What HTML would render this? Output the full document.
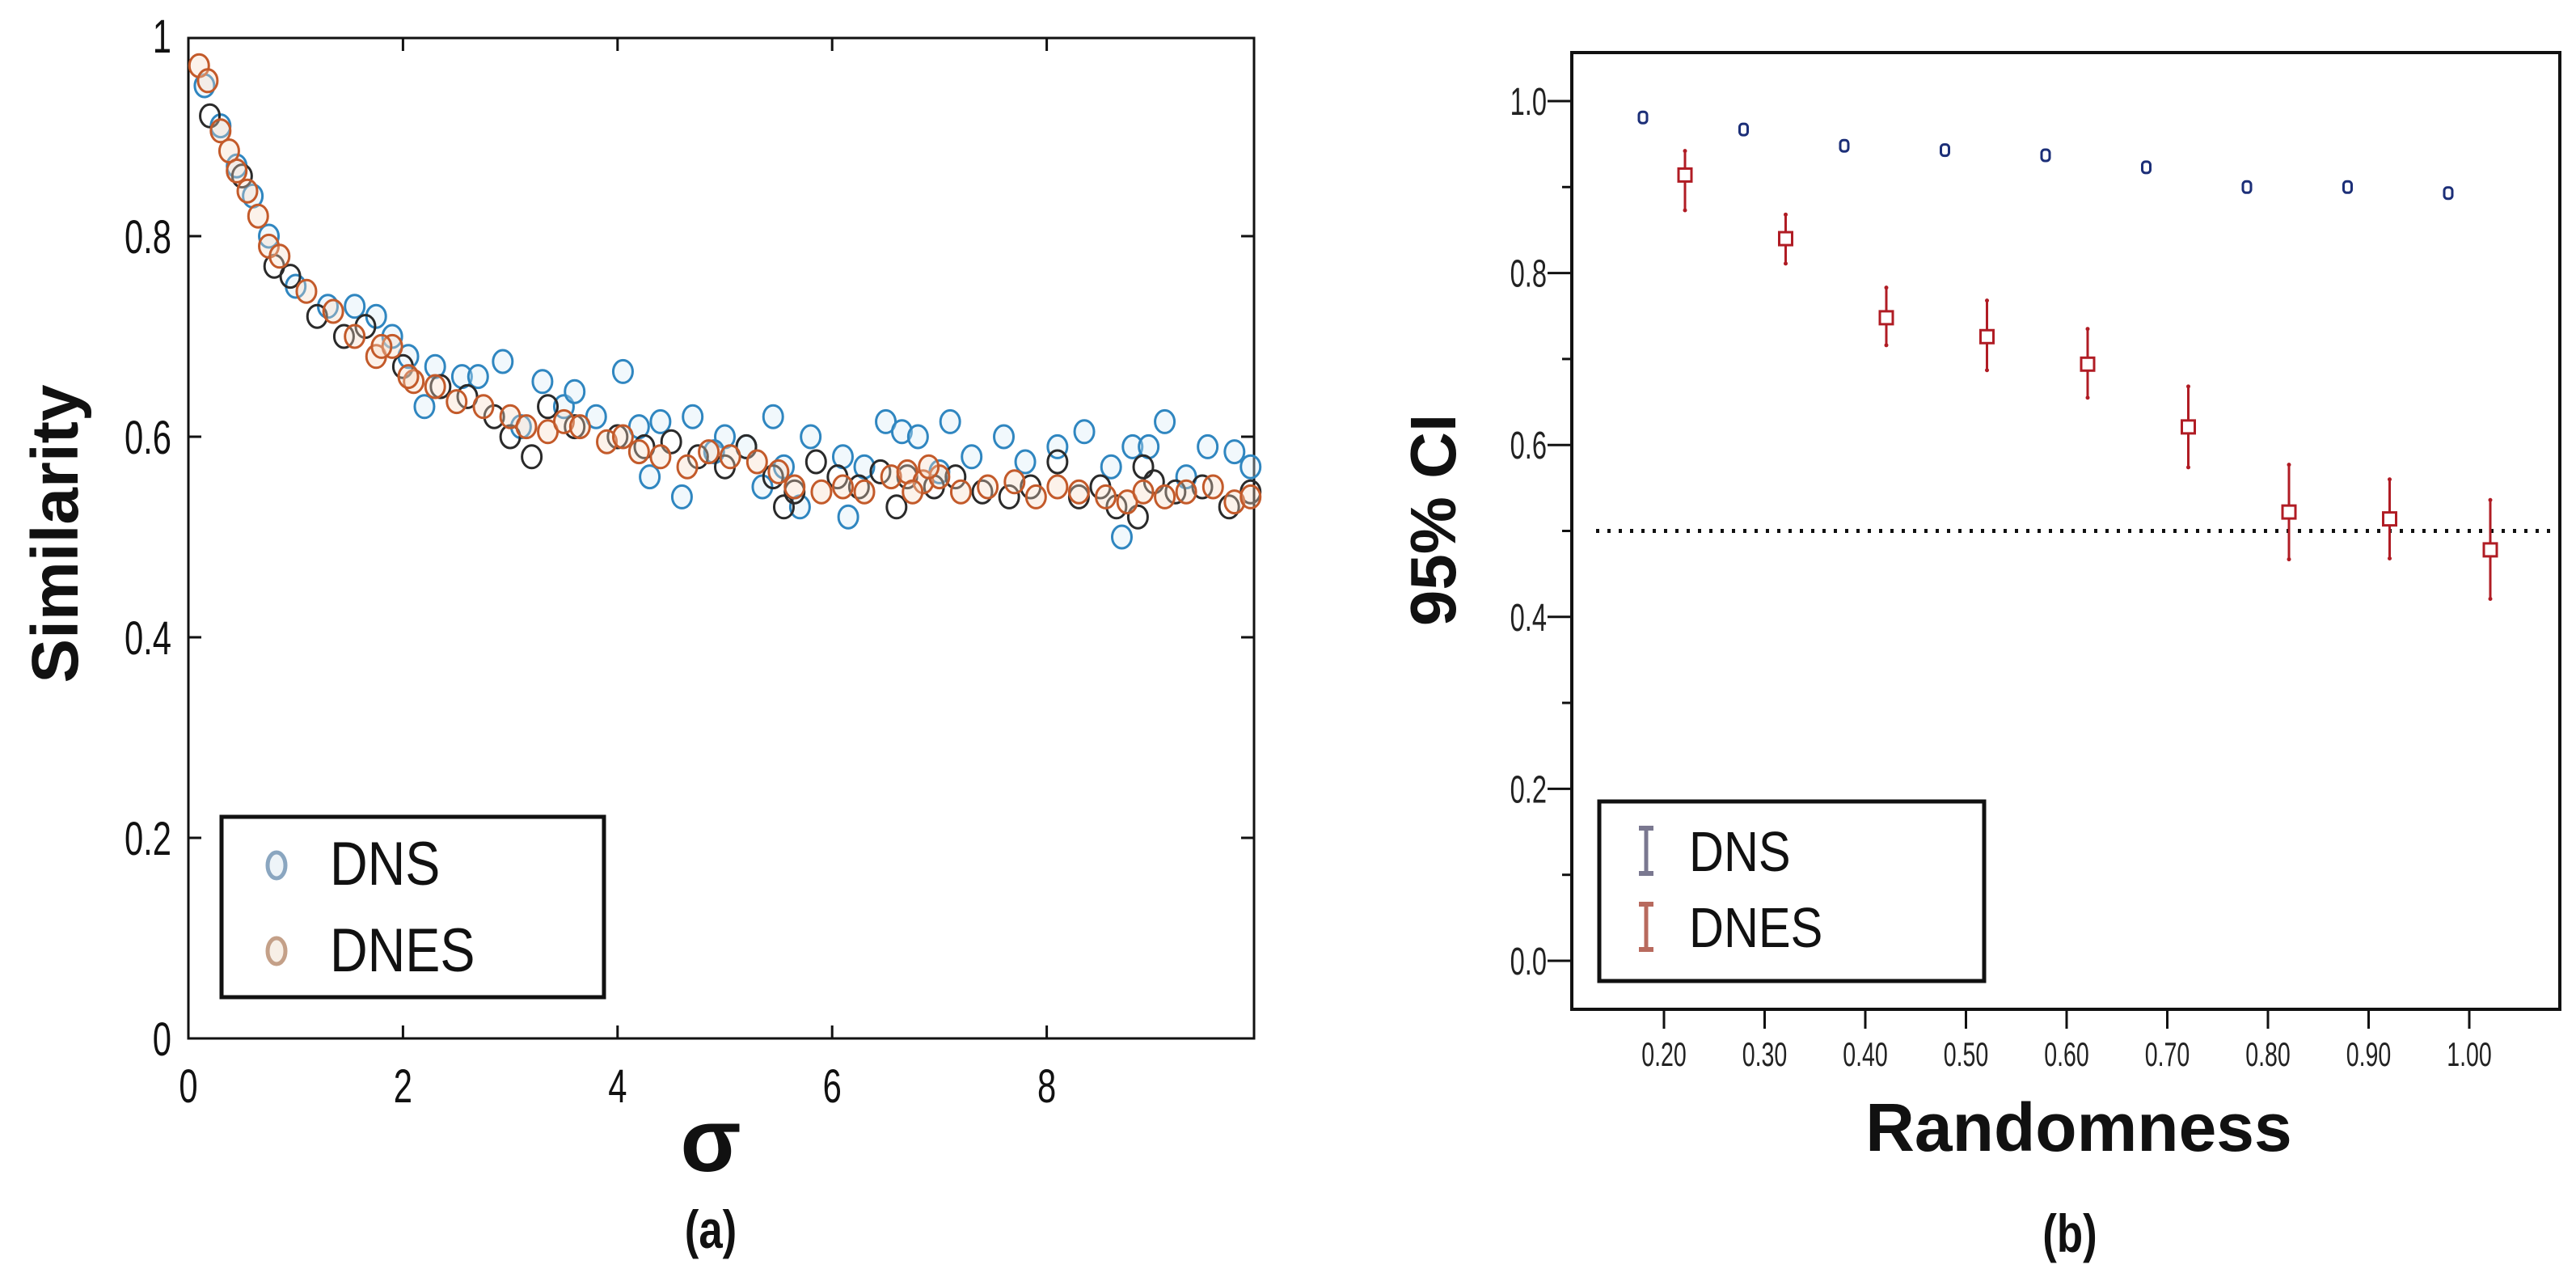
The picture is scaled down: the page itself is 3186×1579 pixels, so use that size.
<!DOCTYPE html>
<html><head><meta charset="utf-8"><style>
html,body{margin:0;padding:0;background:#fff;}
svg{display:block;font-family:"Liberation Sans",Arial,sans-serif;}
</style></head><body>
<svg id="fig" width="3186" height="1579" viewBox="0 0 3186 1579" xmlns="http://www.w3.org/2000/svg">
<rect width="3186" height="1579" fill="#fff"/>
<g id="left"></g>
<g id="right"></g>
</svg>
<script>
// ---------- Panel (a) data ----------
const dnsX=[0.15,0.3,0.45,0.6,0.75,1.0,1.3,1.55,1.75,2.05,2.2,2.3,2.55,2.93,3.1,3.3,3.5,3.6,4.05,4.2,4.3,4.4,4.6,4.7,5.0,5.2,5.45,5.55,5.7,5.8,6.1,6.15,6.5,6.65,6.8,7.1,7.3,7.6,7.8,8.1,8.35,8.6,8.7,8.8,8.95,9.1,9.5,9.75,9.9,5.35,6.3,7.0,9.3,4.9,2.7,1.9,3.8];
const dnsY=[0.95,0.91,0.87,0.84,0.80,0.75,0.73,0.73,0.72,0.68,0.63,0.67,0.66,0.675,0.61,0.655,0.63,0.645,0.665,0.61,0.56,0.615,0.54,0.62,0.60,0.59,0.62,0.57,0.53,0.60,0.58,0.52,0.615,0.605,0.60,0.615,0.58,0.60,0.575,0.59,0.605,0.57,0.50,0.59,0.59,0.615,0.59,0.585,0.57,0.55,0.57,0.565,0.56,0.585,0.66,0.70,0.62];
const darkX=[0.2,0.5,0.8,0.95,1.2,1.45,1.65,2.0,2.35,2.6,2.85,3.0,3.2,3.35,3.6,4.0,4.25,4.5,4.75,5.0,5.2,5.45,5.65,5.85,6.05,6.25,6.45,6.7,6.95,7.15,7.4,7.65,7.85,8.1,8.3,8.5,8.65,8.85,9.0,9.2,9.45,9.7,9.9,8.9,6.6,5.55];
const darkY=[0.92,0.86,0.77,0.76,0.72,0.70,0.71,0.67,0.65,0.64,0.62,0.60,0.58,0.63,0.61,0.60,0.59,0.595,0.58,0.57,0.59,0.56,0.545,0.575,0.56,0.55,0.565,0.56,0.55,0.56,0.545,0.54,0.55,0.575,0.54,0.55,0.53,0.52,0.555,0.545,0.55,0.53,0.545,0.57,0.53,0.53];
const dnesX=[0.1,0.18,0.3,0.38,0.45,0.55,0.65,0.75,0.85,1.1,1.35,1.55,1.75,1.9,2.1,2.3,2.5,2.75,3.0,3.15,3.35,3.5,3.65,3.9,4.05,4.2,4.4,4.65,4.85,5.05,5.3,5.5,5.65,5.9,6.1,6.3,6.55,6.7,6.85,7.0,7.2,7.45,7.7,7.9,8.1,8.3,8.55,8.75,8.9,9.1,9.3,9.55,9.75,9.9,6.75,6.9,2.05,1.8];
const dnesY=[0.97,0.955,0.905,0.885,0.865,0.845,0.82,0.79,0.78,0.745,0.725,0.70,0.68,0.69,0.655,0.65,0.635,0.63,0.62,0.61,0.605,0.615,0.61,0.595,0.60,0.585,0.58,0.57,0.585,0.58,0.575,0.565,0.55,0.545,0.55,0.545,0.56,0.565,0.555,0.56,0.545,0.55,0.555,0.54,0.55,0.545,0.54,0.535,0.545,0.54,0.545,0.55,0.535,0.54,0.545,0.57,0.66,0.69];
const leftXTicks=[0,2,4,6,8];
const leftYTicks=[0,0.2,0.4,0.6,0.8,1];
const leftYLabels=["0","0.2","0.4","0.6","0.8","1"];

// ---------- Panel (b) data ----------
const categories=["0.20","0.30","0.40","0.50","0.60","0.70","0.80","0.90","1.00"];
const dnsMean=[0.981,0.967,0.948,0.943,0.937,0.923,0.900,0.900,0.893];
const dnsLow=[0.976,0.962,0.943,0.938,0.932,0.918,0.894,0.895,0.886];
const dnsHigh=[0.986,0.972,0.953,0.948,0.942,0.928,0.906,0.905,0.900];
const dnesMean=[0.914,0.840,0.748,0.726,0.694,0.621,0.522,0.514,0.478];
const dnesLow=[0.873,0.811,0.716,0.687,0.655,0.574,0.467,0.468,0.421];
const dnesHigh=[0.942,0.868,0.783,0.768,0.735,0.668,0.577,0.560,0.536];
const rightYTicks=[0,0.2,0.4,0.6,0.8,1.0];
const rightYLabels=["0.0","0.2","0.4","0.6","0.8","1.0"];
const rightMinorTicks=[0.1,0.3,0.5,0.7,0.9];
const refLine=[0.5];

const NS="http://www.w3.org/2000/svg";
function mk(parent,tag,attrs,text){const e=document.createElementNS(NS,tag);for(const k in attrs)e.setAttribute(k,attrs[k]);if(text!==undefined)e.textContent=text;parent.appendChild(e);return e;}

// ===== Panel (a) =====
const L=document.getElementById('left');
const lx0=233,lx1=1551,ly0=1284,ly1=44;
const lxs=v=>lx0+v*(1327/10);
const lys=v=>ly0-v*(ly0-ly1);
let fr=mk(L,'rect',{x:lx0,y:47,width:lx1-lx0,height:ly0-47,fill:'none',stroke:'#111','stroke-width':3});


leftXTicks.forEach((t,i)=>{
  const x=lxs(t);
  if(i>0){
    let a=mk(L,'line',{x1:x,x2:x,y1:ly0,y2:ly0-16,stroke:'#111','stroke-width':3});
    
    
    let b=mk(L,'line',{x1:x,x2:x,y1:47,y2:63,stroke:'#111','stroke-width':3});
    
    
  }
  let tl=mk(L,'text',{x:0,y:0,transform:`translate(${x},1363) scale(0.72,1)`,'text-anchor':'middle','font-size':58,fill:'#111'},String(t));
  
  
});
leftYTicks.forEach((t,i)=>{
  const y=lys(t);
  if(i>0&&i<leftYTicks.length-1){
    let a=mk(L,'line',{x1:lx0,x2:lx0+16,y1:y,y2:y,stroke:'#111','stroke-width':3});
    
    
    let b=mk(L,'line',{x1:lx1,x2:lx1-16,y1:y,y2:y,stroke:'#111','stroke-width':3});
    
    
  }
  let tl=mk(L,'text',{x:0,y:0,transform:`translate(212,${y+21}) scale(0.72,1)`,'text-anchor':'end','font-size':58,fill:'#111'},leftYLabels[i]);
  
  
});
function drawSeries(xs,ys,color,fillc,name){
  const g=mk(L,'g',{});
  
  
  xs.forEach((xv,i)=>{
    const c=mk(g,'ellipse',{cx:lxs(xv),cy:lys(ys[i]),rx:12,ry:14,fill:fillc,stroke:color,'stroke-width':3,'fill-opacity':0.35});
    
    
  });
}
drawSeries(dnsX,dnsY,'#2f86c0','#d8ecf7','dns-series');
drawSeries(darkX,darkY,'#2a2a2a','none','dns-dark-series');
drawSeries(dnesX,dnesY,'#c35a2a','#f6d9c4','dnes-series');
// legend
let lg=mk(L,'g',{});


let lb=mk(lg,'rect',{x:274,y:1010,width:473,height:223,fill:'#fff',stroke:'#111','stroke-width':5});


let e1=mk(lg,'ellipse',{cx:342,cy:1070,rx:11,ry:16,fill:'#eef4f8',stroke:'#8aa6c0','stroke-width':5});


let t1=mk(lg,'text',{x:0,y:0,transform:'translate(408,1094) scale(0.85,1)','font-size':76,fill:'#111'},'DNS');


let e2=mk(lg,'ellipse',{cx:342,cy:1176,rx:11,ry:16,fill:'#f7efe6',stroke:'#c4a088','stroke-width':5});


let t2=mk(lg,'text',{x:0,y:0,transform:'translate(408,1201) scale(0.85,1)','font-size':76,fill:'#111'},'DNES');


let yt=mk(L,'text',{x:0,y:0,transform:'translate(96,660) rotate(-90)','text-anchor':'middle','font-size':82,'font-weight':'bold',fill:'#111'},'Similarity');


let xt=mk(L,'text',{x:879,y:1448,'text-anchor':'middle','font-size':110,'font-weight':'bold',fill:'#111'},'σ');


let cap=mk(L,'text',{x:0,y:0,transform:'translate(879,1543) scale(0.8,1)','text-anchor':'middle','font-size':66,'font-weight':'bold',fill:'#111'},'(a)');



// ===== Panel (b) =====
const R=document.getElementById('right');
const rx0=1944,rx1=3166,rTop=65,rBot=1248;
const ry0=1188,ry1=125;
const rys=v=>ry0-v*(ry0-ry1);
const rcx=i=>2058+i*124.5;
let rf=mk(R,'rect',{x:rx0,y:rTop,width:rx1-rx0,height:rBot-rTop,fill:'none',stroke:'#111','stroke-width':4});


rightYTicks.forEach((t,i)=>{
  const y=rys(t);
  let a=mk(R,'line',{x1:rx0-30,x2:rx0,y1:y,y2:y,stroke:'#111','stroke-width':3});
  
  
  let tl=mk(R,'text',{x:0,y:0,transform:`translate(1913,${y+17}) scale(0.68,1)`,'text-anchor':'end','font-size':48,fill:'#222'},rightYLabels[i]);
  
  
});
rightMinorTicks.forEach(t=>{
  const y=rys(t);
  let a=mk(R,'line',{x1:rx0-12,x2:rx0,y1:y,y2:y,stroke:'#111','stroke-width':3});
  
  
});
categories.forEach((c,i)=>{
  const x=rcx(i);
  let a=mk(R,'line',{x1:x,x2:x,y1:rBot,y2:rBot+24,stroke:'#111','stroke-width':3});
  
  
  let tl=mk(R,'text',{x:0,y:0,transform:`translate(${x},1318) scale(0.68,1)`,'text-anchor':'middle','font-size':42,fill:'#222'},c);
  
  
});
refLine.forEach(v=>{
  let d=mk(R,'line',{x1:1974,x2:rx1,y1:rys(v),y2:rys(v),stroke:'#111','stroke-width':5,'stroke-dasharray':'4 10'});
  
  
});
categories.forEach((c,i)=>{
  const bx=rcx(i)-26, rxp=rcx(i)+26;
  let g1=mk(R,'g',{});
  
  
  mk(g1,'line',{x1:bx,x2:bx,y1:rys(dnsLow[i]),y2:rys(dnsHigh[i]),stroke:'#1c2f78','stroke-width':3});
  mk(g1,'rect',{x:bx-5,y:rys(dnsMean[i])-7,width:10,height:14,rx:4,fill:'#fff',stroke:'#1c2f78','stroke-width':3});
  let g2=mk(R,'g',{});
  
  
  mk(g2,'line',{x1:rxp,x2:rxp,y1:rys(dnesLow[i]),y2:rys(dnesHigh[i]),stroke:'#b01c24','stroke-width':3});
  mk(g2,'circle',{cx:rxp,cy:rys(dnesLow[i]),r:2.5,fill:'#b01c24'});
  mk(g2,'circle',{cx:rxp,cy:rys(dnesHigh[i]),r:2.5,fill:'#b01c24'});
  mk(g2,'rect',{x:rxp-8,y:rys(dnesMean[i])-8,width:16,height:16,fill:'#fff',stroke:'#b01c24','stroke-width':3});
});
let rg=mk(R,'g',{});


let rb=mk(rg,'rect',{x:1978,y:991,width:476,height:222,fill:'#fff',stroke:'#111','stroke-width':5});


function ibar(x,yc,col,nm){
  const g=mk(rg,'g',{});
  
  
  mk(g,'line',{x1:x,x2:x,y1:yc-28,y2:yc+28,stroke:col,'stroke-width':5});
  mk(g,'line',{x1:x-9,x2:x+9,y1:yc-28,y2:yc-28,stroke:col,'stroke-width':6});
  mk(g,'line',{x1:x-9,x2:x+9,y1:yc+28,y2:yc+28,stroke:col,'stroke-width':6});
}
ibar(2036,1052,'#7a7890','legend-marker-dns');
ibar(2036,1146,'#b86a5e','legend-marker-dnes');
let rt1=mk(rg,'text',{x:0,y:0,transform:'translate(2089,1077) scale(0.85,1)','font-size':70,fill:'#111'},'DNS');


let rt2=mk(rg,'text',{x:0,y:0,transform:'translate(2089,1171) scale(0.85,1)','font-size':70,fill:'#111'},'DNES');


let ryt=mk(R,'text',{x:0,y:0,transform:'translate(1800,643) rotate(-90)','text-anchor':'middle','font-size':80,'font-weight':'bold',fill:'#111'},'95% CI');


let rxt=mk(R,'text',{x:2571,y:1423,'text-anchor':'middle','font-size':84,'font-weight':'bold',fill:'#111'},'Randomness');


let rcap=mk(R,'text',{x:0,y:0,transform:'translate(2560,1548) scale(0.8,1)','text-anchor':'middle','font-size':66,'font-weight':'bold',fill:'#111'},'(b)');


</script>
</body></html>
